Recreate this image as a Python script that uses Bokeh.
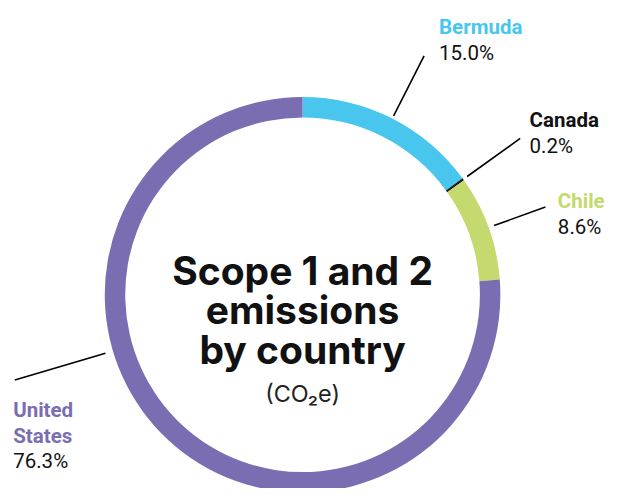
import math
from bokeh.plotting import figure
from bokeh.models import Range1d
from bokeh.core.properties import value
from bokeh.embed import file_html
from bokeh.resources import INLINE

countries = ["Bermuda", "Canada", "Chile", "United States"]
shares = [15.0, 0.2, 8.6, 76.3]
share_labels = ["15.0%", "0.2%", "8.6%", "76.3%"]
name_lines = [["Bermuda"], ["Canada"], ["Chile"], ["United", "States"]]
colors = ["#48C6EE", "#1A1A1A", "#C4DA6E", "#7A6DB1"]
label_colors = ["#48C6EE", "#111111", "#C4DA6E", "#7A6DB1"]
title_lines = ["Scope 1 and 2", "emissions", "by country"]
subtitle = "(CO\u2082e)"

W, H = 609, 488
S = W / 625.0  # scale reference pixel layout into the figure

p = figure(width=W, height=H, output_backend="svg", toolbar_location=None,
           x_range=Range1d(0, 625), y_range=Range1d(-H / S, 0),
           min_border=0, outline_line_color=None)
p.axis.visible = False
p.grid.visible = False
p.background_fill_color = "white"
p.border_fill_color = "white"

cx, cy = 310, -302
r_out, r_in = 203, 182

total = sum(shares)
cum = 0.0
starts, ends, mids = [], [], []
for s in shares:
    a0 = cum / total
    cum += s
    a1 = cum / total
    starts.append(math.pi / 2 - a0 * 2 * math.pi)
    ends.append(math.pi / 2 - a1 * 2 * math.pi)
    mids.append((a0 + a1) / 2 * 360)

p.annular_wedge(x=[cx] * 4, y=[cy] * 4, inner_radius=r_in, outer_radius=r_out,
                start_angle=starts, end_angle=ends, direction="clock",
                fill_color=colors, line_color=None)

leader_angles = [mids[0], mids[1], mids[2], 253.5]
leader_r = [(206, 275), (208, 275), (209, 265), (211, 308)]
for ang, (ra, rb) in zip(leader_angles, leader_r):
    t = math.radians(ang)
    xs = [cx + ra * math.sin(t), cx + rb * math.sin(t)]
    ys = [cy + ra * math.cos(t), cy + rb * math.cos(t)]
    p.line(xs, ys, line_color="black", line_width=1.6)

def fs(px):
    return "%.1fpx" % (px * S)

label_pos = [(450, 27), (543, 123), (572, 206), (13, 420)]
lh = 26.5
for i in range(4):
    lx, ly = label_pos[i]
    lines = name_lines[i]
    for j, ln in enumerate(lines):
        p.text(x=[lx], y=[-(ly + j * lh)], text=[ln], text_font=value("Roboto"),
               text_font_style="bold", text_font_size=fs(21),
               text_color=label_colors[i], text_baseline="alphabetic", text_align="left")
    p.text(x=[lx], y=[-(ly + len(lines) * lh)], text=[share_labels[i]],
           text_font=value("Roboto"), text_font_size=fs(21),
           text_color="#111111", text_baseline="alphabetic", text_align="left")

for j, ln in enumerate(title_lines):
    p.text(x=[cx], y=[-(277 + j * 40.5)], text=[ln], text_font=value("Inter"),
           text_font_style="bold", text_font_size=fs(40), text_color="#111111",
           text_baseline="alphabetic", text_align="center")
p.text(x=[cx], y=[-403], text=[subtitle], text_font=value("Inter"),
       text_font_size=fs(24), text_color="#222222",
       text_baseline="alphabetic", text_align="center")

open("out.html", "w").write(file_html(p, INLINE))
